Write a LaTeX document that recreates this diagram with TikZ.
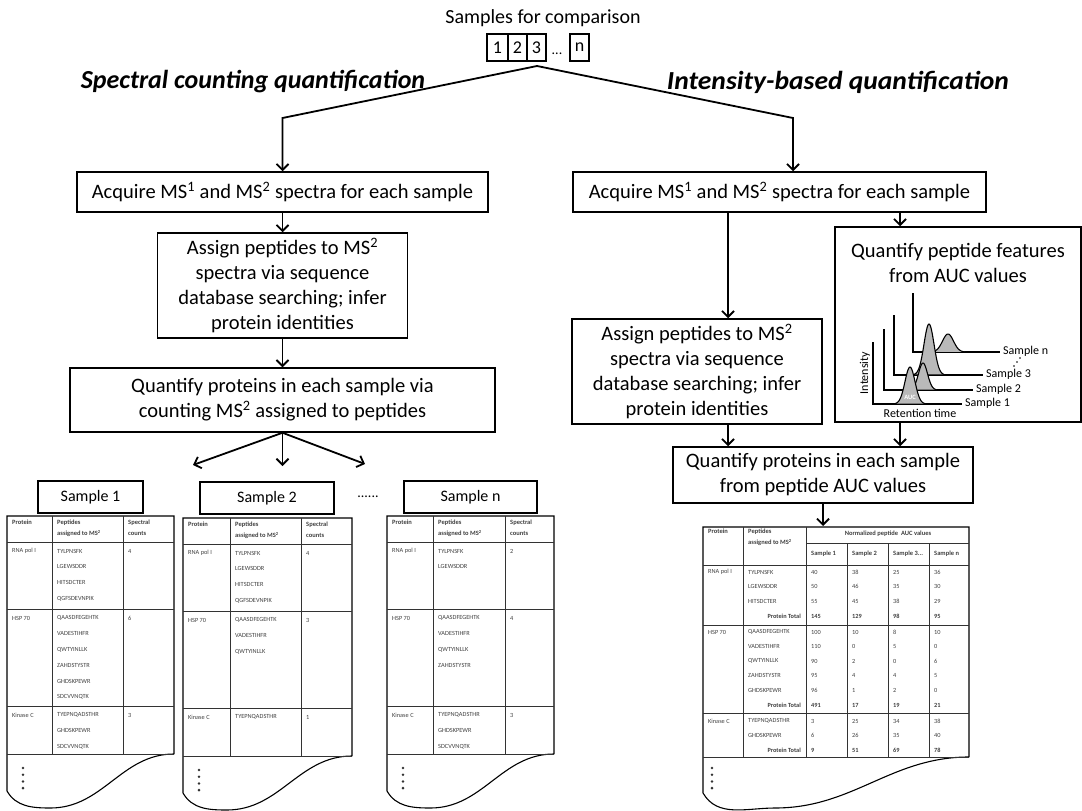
\documentclass[tikz,border=0pt]{standalone}
\usepackage{fontspec}
\setmainfont{Carlito}
\usetikzlibrary{arrows.meta,calc}
\tikzset{
  box/.style={draw,line width=1.5pt,align=center,inner sep=0pt,font=\fontsize{20.5}{25}\selectfont},
  nbox/.style={draw,line width=1.5pt,minimum height=27pt,inner sep=0pt,font=\fontsize{18}{21}\selectfont},
  sbox/.style={draw,line width=1.5pt,minimum height=32pt,inner sep=0pt,font=\fontsize{16}{19}\selectfont},
  ttl/.style={font=\fontsize{26}{30}\selectfont\bfseries\itshape},
  arr/.style={line width=1.8pt,-{Straight Barb[length=6pt,width=12pt]}},
  tab/.style={line width=1.1pt},
  tabin/.style={line width=0.8pt,draw=black!80},
  th/.style={anchor=north west,inner sep=0pt,align=left,font=\fontsize{6.5}{11}\selectfont\bfseries,text=black!75},
  td/.style={anchor=west,inner sep=0pt,font=\fontsize{6.3}{8}\selectfont,text=black!75},
  tdb/.style={td,font=\fontsize{6.3}{8}\selectfont\bfseries},
  clab/.style={inner sep=0pt,font=\fontsize{12}{14}\selectfont},
  peak/.style={fill=gray!55},
  peakline/.style={line width=1.1pt},
  axisln/.style={line width=1.1pt}
}
\newcommand{\sctab}[6]{%
  \pgfmathsetmacro\tbR{#6+238}%
  \pgfmathsetmacro\tbL{#6+275}%
  \pgfmathsetmacro\tbB{#6+292}%
  \pgfmathsetmacro\tbM{#2+0.26*(#5-#2)}%
  \draw[tab] (#5,\tbR) -- (#5,#6) -- (#2,#6) -- (#2,\tbL) to[out=-60,in=180] (\tbM,\tbB) to[out=0,in=180] (#5,\tbR);
  \foreach \yy in {26,93,190,238} {\draw[tabin] (#2,{#6+\yy}) -- (#5,{#6+\yy});}
  \draw[tabin] (#3,#6) -- (#3,\tbR);
  \draw[tabin] (#4,#6) -- (#4,\tbR);
  \node[th] (#1h1) at ({#2+5},{#6+4}) {Protein};
  \node[th] (#1h2) at ({#3+5},{#6+4}) {Peptides\\assigned to MS\textsuperscript{2}};
  \node[th] (#1h3) at ({#4+5},{#6+4}) {Spectral\\counts};
  \foreach \k in {0,...,3} {\fill[black!80] ({#2+16},{#6+252+6.7*\k}) circle[radius=1.4pt];}
}
\newcommand{\scsec}[8]{%
  \node[td] (#1n) at ({#2+5},{#5+9}) {#6};
  \foreach \pp [count=\ii] in {#7} {\node[td] (#1p\ii) at ({#3+5},{#5+9+15.8*(\ii-1)}) {\pp};}
  \node[td] (#1c) at ({#4+5},{#5+9}) {#8};
}
\newcommand{\rrow}[7]{%
  \node[td] (#1p) at (748,#2) {#3};
  \node[td] (#1a) at (811,#2) {#4};
  \node[td] (#1b) at (852,#2) {#5};
  \node[td] (#1c) at (893,#2) {#6};
  \node[td] (#1d) at (934,#2) {#7};
}
\newcommand{\rtot}[6]{%
  \node[tdb,anchor=east] (#1p) at (801,#2) {Protein Total};
  \node[tdb] (#1a) at (811,#2) {#3};
  \node[tdb] (#1b) at (852,#2) {#4};
  \node[tdb] (#1c) at (893,#2) {#5};
  \node[tdb] (#1d) at (934,#2) {#6};
}
% name, corner x, corner y, axis top, axis end, peak centre, peak height, sigma, label
\newcommand{\chrom}[9]{%
  \draw[axisln] (#2,#4) -- (#2,#3) -- (#5,#3);
  \fill[peak] plot[domain=-3:3,samples=40] ({#6+#8*\x},{#3-#7*exp(-((\x)^2)/2)}) -- cycle;
  \draw[peakline] plot[domain=-3:3,samples=40] ({#6+#8*\x},{#3-#7*exp(-((\x)^2)/2)});
  \node[clab,anchor=west] (#1) at ({#5+3},{#3-1}) {#9};
}
\begin{document}
\begin{tikzpicture}[x=1pt,y=-1pt]
\useasboundingbox (0,0) rectangle (1082,811);
% ---------- top ----------
\node[font=\fontsize{20}{24}\selectfont] (samples) at (543,18) {Samples for comparison};
\node[nbox,minimum width=21pt] (b1) at (497.5,47.5) {1};
\node[nbox,minimum width=19pt] (b2) at (517.5,47.5) {2};
\node[nbox,minimum width=19pt] (b3) at (536.5,47.5) {3};
\node[font=\fontsize{14}{16}\selectfont,inner sep=0pt] (bdots) at (557,54) {...};
\node[nbox,minimum width=19pt] (bn) at (579.5,47.5) {n};
\coordinate (apex) at (537,66);
\coordinate (cornerL) at (282.5,118);
\coordinate (cornerR) at (793,118);
\node[ttl] (tleft) at (253,82) {Spectral counting quantification};
\node[ttl,xscale=1.06] (tright) at (838,82) {Intensity-based quantification};
% ---------- left column ----------
\node[box,minimum width=411pt,minimum height=40pt] (acqL) at (282.5,192) {Acquire MS\textsuperscript{1} and MS\textsuperscript{2} spectra for each sample};
\node[box,minimum width=250pt,minimum height=105pt] (asgL) at (282.5,285.5) {Assign peptides to MS\textsuperscript{2}\\spectra via sequence\\database searching; infer\\protein identities};
\node[box,minimum width=425pt,minimum height=64pt] (quaL) at (282.5,400) {Quantify proteins in each sample via\\counting MS\textsuperscript{2} assigned to peptides};
\draw[arr] (apex) -- (cornerL) -- (acqL.north);
\draw[arr] (acqL) -- (asgL);
\draw[arr] (asgL) -- (quaL);
\coordinate (tipA) at (193,465);
\coordinate (tipB) at (282.5,466);
\coordinate (tipC) at (365,464);
\draw[arr] (quaL.south) -- (tipA);
\draw[arr] (quaL.south) -- (tipB);
\draw[arr] (quaL.south) -- (tipC);
\node[sbox,minimum width=105pt] (s1) at (90.5,497) {Sample 1};
\node[sbox,minimum width=134pt] (s2) at (267,498) {Sample 2};
\node[font=\fontsize{14}{16}\selectfont,inner sep=0pt] (sdots) at (368,497) {......};
\node[sbox,minimum width=133pt] (sn) at (470.5,497) {Sample n};
% tables
\sctab{ta}{7}{52}{123}{174}{516}
\scsec{taA}{7}{52}{123}{542}{RNA pol I}{TYLPNSFK,LGEWSDDR,HITSDCTER,QGFSDEVNPIK}{4}
\scsec{taB}{7}{52}{123}{609}{HSP 70}{QAASDFEGEHTK,VADESTIHFR,QWTYINLLK,ZAHDSTYSTR,GHDSKPEWR,SDCVVNQTK}{6}
\scsec{taC}{7}{52}{123}{706}{Kinase C}{TYEPNQADSTHR,GHDSKPEWR,SDCVVNQTK}{3}
\sctab{tb}{183}{230}{301}{352}{518}
\scsec{tbA}{183}{230}{301}{544}{RNA pol I}{TYLPNSFK,LGEWSDDR,HITSDCTER,QGFSDEVNPIK}{4}
\scsec{tbB}{183}{230}{301}{611}{HSP 70}{QAASDFEGEHTK,VADESTIHFR,QWTYINLLK}{3}
\scsec{tbC}{183}{230}{301}{708}{Kinase C}{TYEPNQADSTHR}{1}
\sctab{tc}{387}{433}{505}{554}{516}
\scsec{tcA}{387}{433}{505}{542}{RNA pol I}{TYLPNSFK,LGEWSDDR}{2}
\scsec{tcB}{387}{433}{505}{609}{HSP 70}{QAASDFEGEHTK,VADESTIHFR,QWTYINLLK,ZAHDSTYSTR}{4}
\scsec{tcC}{387}{433}{505}{706}{Kinase C}{TYEPNQADSTHR,GHDSKPEWR,SDCVVNQTK}{3}
% ---------- right column ----------
\node[box,minimum width=413pt,minimum height=40pt] (acqR) at (779.5,192) {Acquire MS\textsuperscript{1} and MS\textsuperscript{2} spectra for each sample};
\node[box,minimum width=250pt,minimum height=105pt] (asgR) at (697,371.5) {Assign peptides to MS\textsuperscript{2}\\spectra via sequence\\database searching; infer\\protein identities};
\node[draw,line width=1.5pt,minimum width=246pt,minimum height=195pt,inner sep=0pt] (featR) at (958,324.5) {};
\node[font=\fontsize{20.5}{25}\selectfont,align=center,inner sep=0pt] (featT) at (958,263) {Quantify peptide features\\from AUC values};
\node[box,minimum width=300pt,minimum height=56pt] (quaR) at (823,475) {Quantify proteins in each sample\\from peptide AUC values};
\draw[arr] (apex) -- (cornerR) -- (cornerR |- acqR.north);
\coordinate (xa) at (728,0);
\coordinate (xb) at (900,0);
\coordinate (rtabtop) at (823,526);
\draw[arr] (acqR.south -| xa) -- (asgR.north -| xa);
\draw[arr] (acqR.south -| xb) -- (featR.north -| xb);
\draw[arr] (asgR.south -| xa) -- (quaR.north -| xa);
\draw[arr] (featR.south -| xb) -- (quaR.north -| xb);
\draw[arr] (quaR.south) -- (rtabtop);
% chromatogram
\chrom{cn}{913}{352}{293}{1000}{948}{18}{5.5}{Sample n}
\chrom{c3}{894}{375}{315}{983}{929}{51}{5}{Sample 3}
\chrom{c2}{884}{390}{329}{973}{923}{27}{4.5}{Sample 2}
\chrom{c1}{873}{404}{342}{962}{910}{37}{5}{Sample 1}
\node[font=\fontsize{6.5}{8}\selectfont\bfseries,text=white,inner sep=0pt] (auc) at (910,397) {AUC};
\foreach \k in {0,1,2} {\fill (1014+3*\k,366-4*\k) circle[radius=0.9pt];}
\node[clab,rotate=90] (intens) at (865,373) {Intensity};
\node[clab] (rett) at (920,413) {Retention time};
% right table
\draw[tab] (969,757) -- (969,527) -- (703,527) -- (703,793) to[out=-60,in=180] (775,808) to[out=0,in=180] (969,757);
\draw[tabin] (806,543) -- (969,543);
\foreach \yy in {565,625,713,757} {\draw[tabin] (703,\yy) -- (969,\yy);}
\foreach \xx in {743,806} {\draw[tabin] (\xx,527) -- (\xx,757);}
\foreach \xx in {847,888,929} {\draw[tabin] (\xx,543) -- (\xx,757);}
\node[th] (rh1) at (708,529) {Protein};
\node[th] (rh2) at (748,529) {Peptides\\assigned to MS\textsuperscript{2}};
\node[th,anchor=center] (rh3) at (888,534) {Normalized peptide\ \ AUC values};
\node[th,anchor=west] (rh4) at (811,554) {Sample 1};
\node[th,anchor=west] (rh5) at (852,554) {Sample 2};
\node[th,anchor=west] (rh6) at (893,554) {Sample 3...};
\node[th,anchor=west] (rh7) at (934,554) {Sample n};
\node[td] (rpA) at (708,572) {RNA pol I};
\rrow{rA1}{572}{TYLPNSFK}{40}{38}{25}{36}
\rrow{rA2}{586.7}{LGEWSDDR}{50}{46}{35}{30}
\rrow{rA3}{601.3}{HITSDCTER}{55}{45}{38}{29}
\rtot{rA4}{616}{145}{129}{98}{95}
\node[td] (rpB) at (708,632) {HSP 70};
\rrow{rB1}{632}{QAASDFEGEHTK}{100}{10}{8}{10}
\rrow{rB2}{646.6}{VADESTIHFR}{110}{0}{5}{0}
\rrow{rB3}{661.2}{QWTYINLLK}{90}{2}{0}{6}
\rrow{rB4}{675.8}{ZAHDSTYSTR}{95}{4}{4}{5}
\rrow{rB5}{690.4}{GHDSKPEWR}{96}{1}{2}{0}
\rtot{rB6}{705}{491}{17}{19}{21}
\node[td] (rpC) at (708,721) {Kinase C};
\rrow{rC1}{721}{TYEPNQADSTHR}{3}{25}{34}{38}
\rrow{rC2}{735.5}{GHDSKPEWR}{6}{26}{35}{40}
\rtot{rC3}{750}{9}{51}{69}{78}
\foreach \k in {0,...,3} {\fill[black!80] (712,{768+6.7*\k}) circle[radius=1.4pt];}
\end{tikzpicture}
\end{document}
